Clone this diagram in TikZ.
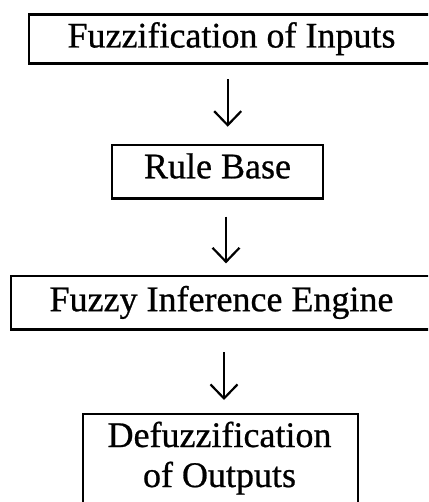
\documentclass[tikz,border=0pt]{standalone}
\usepackage{fontspec}
\setmainfont{Liberation Serif}[FakeBold=0.7]
\usetikzlibrary{arrows.meta}

\begin{document}
\begin{tikzpicture}[x=1pt,y=-1pt,
  box/.style={draw, line width=2.8pt, rectangle, inner sep=0pt, outer sep=0pt,
    font=\fontsize{36}{40}\selectfont, text height=25pt, text depth=8pt},
  flow/.style={line width=2.4pt,
    -{Straight Barb[length=14pt,width=27pt,line width=2.2pt]}}
]
\useasboundingbox (0,0) rectangle (428,502);
\clip (0,0) rectangle (428,502);

% stages of the fuzzy controller
\node[box, minimum width=405pt, minimum height=48.6pt] (fuzz) at (231.5,39) {Fuzzification of Inputs};
\node[box, minimum width=211pt, minimum height=53.3pt, text depth=11.8pt] (rules) at (217.5,171.7) {Rule Base};
\node[box, minimum width=421pt, minimum height=53.3pt] (engine) at (221.5,302.7) {Fuzzy Inference Engine};
\node[box, minimum width=275pt, minimum height=130pt, anchor=north, text height=, text depth=] (defuzz) at (220.5,414) {};
\node[anchor=base, align=center, inner sep=0pt, font=\fontsize{36}{40}\selectfont] (defuzztext) at (219.5,487) {Defuzzification\\of Outputs};

% vertical lines on which the arrows run
\coordinate (c1) at (227.7,0);
\coordinate (c2) at (226,0);
\coordinate (c3) at (224,0);

\draw[flow, shorten <=16pt, shorten >=18.3pt] (fuzz.south -| c1) -- (rules.north -| c1);
\draw[flow, shorten <=18.4pt, shorten >=12.7pt] (rules.south -| c2) -- (engine.north -| c2);
\draw[flow, shorten <=22.7pt, shorten >=14pt] (engine.south -| c3) -- (defuzz.north -| c3);
\end{tikzpicture}
\end{document}
